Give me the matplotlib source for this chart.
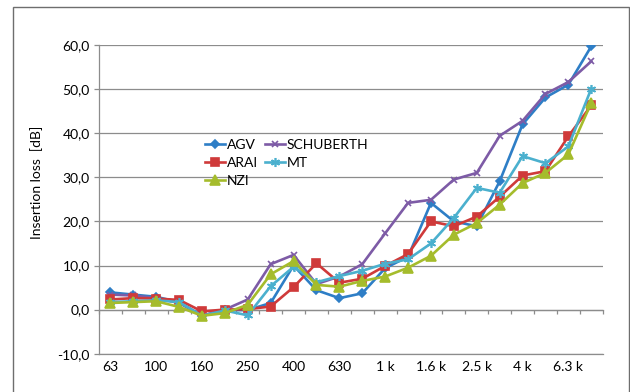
import matplotlib; matplotlib.use("Agg")
import matplotlib.pyplot as plt
from matplotlib.patches import Rectangle
from matplotlib.ticker import FixedLocator, FuncFormatter

plt.rcParams['font.family'] = ['Lato', 'DejaVu Sans']

bands = ["63", "80", "100", "125", "160", "200", "250", "315", "400", "500", "630", "800",
         "1 k", "1.25 k", "1.6 k", "2 k", "2.5 k", "3.15 k", "4 k", "5 k", "6.3 k", "8 k"]

agv = [3.9, 3.4, 2.9, 1.7, -1.4, -0.1, -0.1, 1.5, 10.0, 4.4, 2.6, 3.7,
       9.4, 12.0, 24.2, 20.0, 18.9, 29.1, 42.0, 48.1, 51.0, 59.7]
schuberth = [3.4, 3.2, 2.6, 1.5, -1.4, 0.0, 2.3, 10.3, 12.4, 5.8, 7.5, 10.3,
             17.3, 24.2, 24.9, 29.5, 31.0, 39.4, 42.8, 48.9, 51.6, 56.3]
arai = [2.3, 2.6, 2.5, 2.2, -0.4, 0.0, 0.1, 0.7, 5.1, 10.5, 6.1, 7.0,
        9.9, 12.6, 20.0, 18.9, 21.1, 25.6, 30.4, 31.4, 39.3, 46.3]
mt = [1.7, 1.9, 2.1, 1.7, -1.4, -0.2, -1.3, 5.3, 9.7, 6.2, 7.6, 8.8,
      10.4, 11.4, 15.0, 20.8, 27.6, 26.5, 34.8, 33.2, 37.0, 50.1]
nzi = [1.5, 1.7, 1.9, 0.6, -1.4, -0.8, 1.1, 8.0, 11.0, 5.6, 5.2, 6.5,
       7.5, 9.5, 12.2, 17.0, 19.6, 23.8, 28.7, 31.0, 35.2, 46.9]

series = [
    ("AGV", agv, "#2E7EC6", "D", 4.5),
    ("SCHUBERTH", schuberth, "#7D5BA6", "x", 5),
    ("ARAI", arai, "#CF3A3A", "s", 5.5),
    ("MT", mt, "#4BB0CE", (6, 2, 0), 6.5),
    ("NZI", nzi, "#A5BC2C", "^", 6.5),
]

GRID = "#8C8C8C"
fig = plt.figure(figsize=(6.3, 3.92), dpi=100)
ax = fig.add_axes([0.157, 0.0977, 0.7997, 0.7875])
fig.patches.append(Rectangle((13 / 630, -0.1), 616 / 630, 1.082, transform=fig.transFigure,
                             fill=False, edgecolor="#6E6E6E", lw=1.0))

x = list(range(len(bands)))
handles = {}
for name, vals, col, mk, ms in series:
    ln, = ax.plot(x, vals, color=col, lw=1.9, marker=mk, markersize=ms,
                  markeredgecolor=col, markerfacecolor=col, markeredgewidth=1.2, label=name,
                  zorder=3)
    handles[name] = ln

ax.set_xlim(-0.5, len(bands) - 0.5)
ax.set_ylim(-10, 60)
ax.set_yticks(range(-10, 61, 10))
ax.yaxis.set_major_formatter(FuncFormatter(lambda v, p: f"{v:.1f}".replace(".", ",")))
ax.grid(axis="y", color=GRID, lw=0.9)
ax.set_axisbelow(True)
for s in ("top", "right"):
    ax.spines[s].set_visible(False)
for s in ("left", "bottom"):
    ax.spines[s].set_color(GRID)
    ax.spines[s].set_linewidth(0.9)
ax.tick_params(axis="y", length=3.5, width=0.9, color=GRID, labelsize=10, pad=3)

# category labels at the bottom, every other band
ax.xaxis.set_major_locator(FixedLocator(x[::2]))
ax.set_xticklabels(bands[::2])
ax.tick_params(axis="x", length=0, labelsize=10, pad=5)

# horizontal axis crossing at 0 with ticks between categories
sec = ax.secondary_xaxis(10 / 70)
sec.set_xticks([i - 0.5 for i in range(len(bands) + 1)])
sec.set_xticklabels([])
sec.tick_params(axis="x", length=3, width=0.9, color=GRID, direction="out")
sec.spines["bottom"].set_color(GRID)
sec.spines["bottom"].set_linewidth(0.9)

ax.set_ylabel("Insertion loss  [dB]", fontsize=10)
ax.yaxis.set_label_coords(-0.111, 0.556)

order = ["AGV", "ARAI", "NZI", "SCHUBERTH", "MT"]
ax.legend([handles[n] for n in order], order, ncol=2, frameon=False, fontsize=10,
          loc="upper left", bbox_to_anchor=(205 / 630, 1 - 139 / 392), bbox_transform=fig.transFigure,
          borderpad=0, borderaxespad=0, handlelength=1.45, handletextpad=0.15,
          columnspacing=0.45, labelspacing=0.42)

fig.savefig("out.png", dpi=100)
